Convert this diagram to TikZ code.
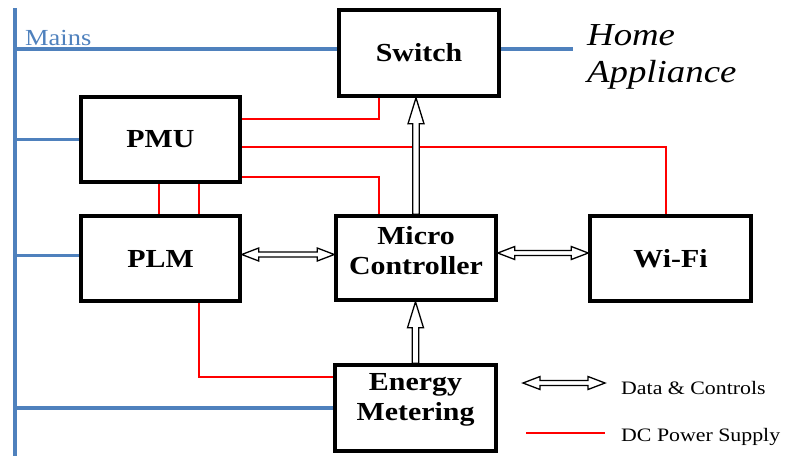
\documentclass[tikz,border=0pt]{standalone}
\usepackage{fontspec}
\setmainfont{Liberation Serif}[FakeStretch=1.15]
\usetikzlibrary{calc,backgrounds}
\definecolor{mainsblue}{RGB}{79,129,189}
\definecolor{dcred}{RGB}{255,0,0}
\newcommand\harrow[2]{\draw[hollow] let \p1=#1, \p2=#2 in
  (\x1,\y1) -- (\x1+17pt,\y1+6.5pt) -- (\x1+17pt,\y1+2.5pt) -- (\x2-17pt,\y1+2.5pt)
  -- (\x2-17pt,\y1+6.5pt) -- (\x2,\y1) -- (\x2-17pt,\y1-6.5pt) -- (\x2-17pt,\y1-2.5pt)
  -- (\x1+17pt,\y1-2.5pt) -- (\x1+17pt,\y1-6.5pt) -- cycle;}
\newcommand\varrow[2]{\draw[hollow] let \p1=#1, \p2=#2 in
  (\x1-3.3pt,\y1) -- (\x1-3.3pt,\y2-26pt) -- (\x1-8pt,\y2-26pt) -- (\x1,\y2)
  -- (\x1+8pt,\y2-26pt) -- (\x1+3.3pt,\y2-26pt) -- (\x1+3.3pt,\y1) -- cycle;}
\begin{document}
\begin{tikzpicture}[x=1pt,y=-1pt,
  box/.style={draw=black, line width=3.5pt, fill=white, inner sep=0pt,
    font=\fontsize{26}{30}\selectfont\bfseries},
  blueline/.style={draw=mainsblue, line width=3.2pt},
  redline/.style={draw=dcred, line width=2.9pt},
  hollow/.style={draw=black, fill=white, line width=1.3pt, line join=miter},
  legend/.style={font=\fontsize{19}{22}\selectfont, inner sep=0pt, anchor=base west}]
\useasboundingbox (0,0) rectangle (786,456);

\node[box, minimum width=160, minimum height=86] (sw) at (419,53) {Switch};
\node[box, minimum width=159, minimum height=85] (pmu) at (160.5,139.5) {PMU};
\node[box, minimum width=159, minimum height=85] (plm) at (160.5,258.5) {PLM};
\node[box, minimum width=160, minimum height=84] (mc) at (416,258)
  {\raisebox{-2pt}[0pt][0pt]{\begin{tabular}{@{}c@{}}Micro\\Controller\end{tabular}}};
\node[box, minimum width=161, minimum height=85] (wifi) at (670.5,258.5) {Wi-Fi};
\node[box, minimum width=161, minimum height=86] (em) at (415.5,408)
  {\raisebox{2.5pt}[0pt][0pt]{\begin{tabular}{@{}c@{}}Energy\\Metering\end{tabular}}};

\node[anchor=base west, inner sep=0pt, text=mainsblue,
  font=\fontsize{23}{26}\selectfont] (mains) at (25,45) {Mains};
\node[anchor=west, align=left, inner sep=0pt,
  font=\fontsize{32}{37}\selectfont\itshape] (ha) at (587,56.5) {Home\\Appliance};

\coordinate (bustop) at (15,8);
\coordinate (busbot) at (15,456);
\coordinate (appl) at (573,49);
\coordinate (lgA) at (523,383);
\coordinate (lgB) at (605,383);
\coordinate (lgC) at (526,433);
\coordinate (lgD) at (605,433);

\node[legend] (lgt1) at (621,394) {Data \& Controls};
\node[legend] (lgt2) at (621,441) {DC Power Supply};

\begin{scope}[on background layer]
\draw[blueline] (bustop) -- (busbot);
\draw[blueline] (15,49) -- (sw.west |- 0,49);
\draw[blueline] (pmu.west -| bustop) -- (pmu.west);
\draw[blueline] ($(plm.west -| bustop)+(0,-3)$) -- ($(plm.west)+(0,-3)$);
\draw[blueline] (em.west -| bustop) -- (em.west);
\draw[blueline] (sw.east |- 0,49) -- (appl);

\draw[redline] (pmu.east |- 0,119) -- (379,119) -- (379,0 |- sw.south);
\draw[redline] (pmu.east |- 0,147) -- (666,147) -- (666,0 |- wifi.north);
\draw[redline] (pmu.east |- 0,177) -- (379,177) -- (379,0 |- mc.north);
\draw[redline] (159,0 |- pmu.south) -- (159,0 |- plm.north);
\draw[redline] (199,0 |- pmu.south) -- (199,0 |- plm.north);
\draw[redline] (199,0 |- plm.south) -- (199,377) -- (em.west |- 0,377);
\draw[redline] (lgC) -- (lgD);
\end{scope}

\harrow{($(plm.east)+(0,-4)$)}{($(mc.west)+(0,-4)$)}
\harrow{($(mc.east)+(0,-5)$)}{($(wifi.west)+(0,-5)$)}
\varrow{(em.north)}{(mc.south)}
\varrow{(mc.north)}{(sw.south)}
\harrow{(lgA)}{(lgB)}
\end{tikzpicture}
\end{document}
